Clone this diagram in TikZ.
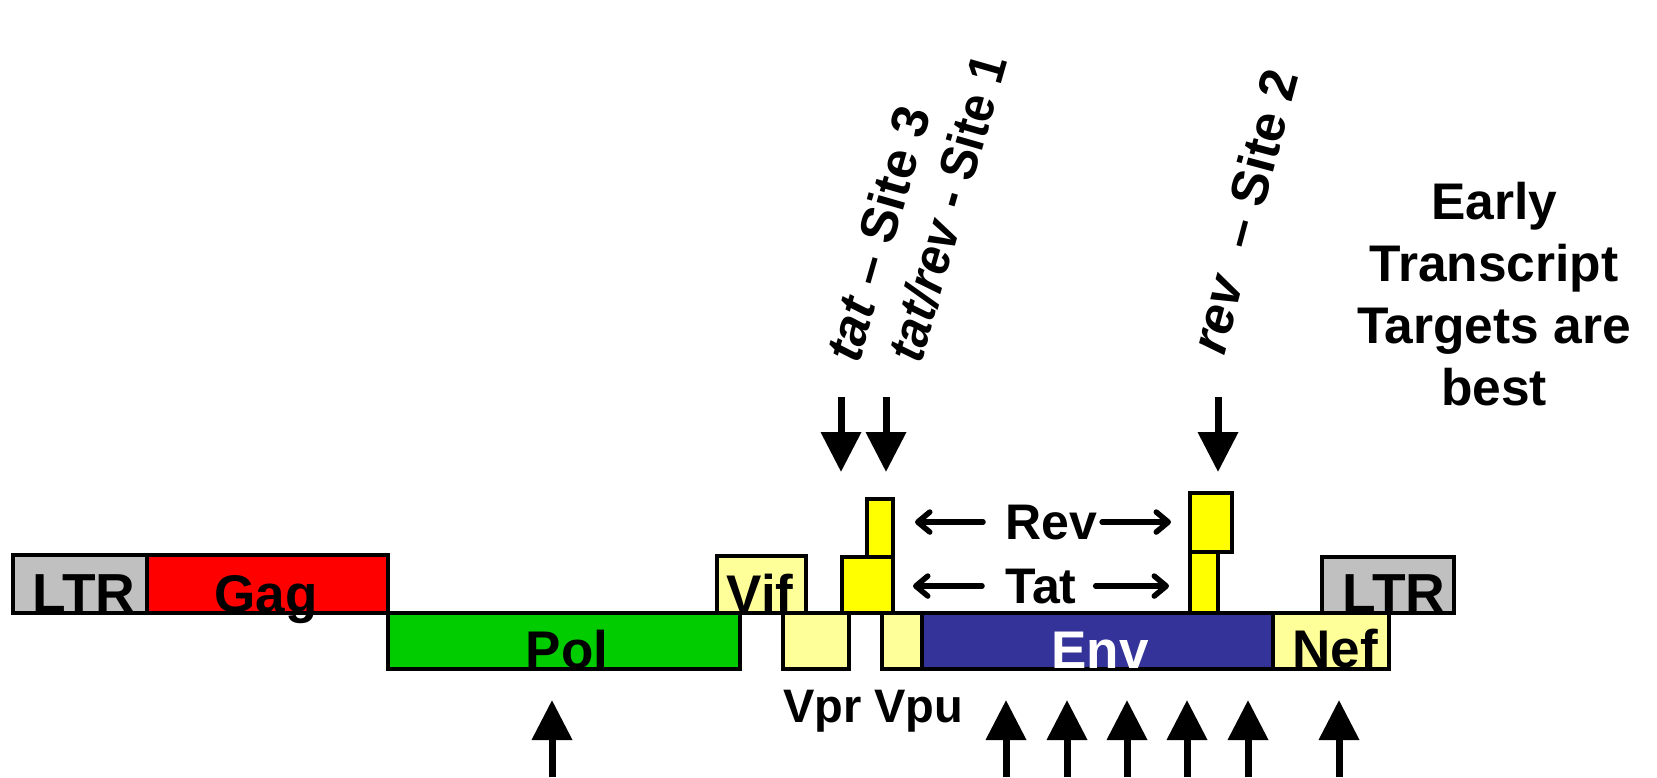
\documentclass[tikz,border=0pt]{standalone}
\usepackage{fontspec}
\setmainfont{Liberation Sans}
\usetikzlibrary{arrows.meta}

\definecolor{ltrgray}{RGB}{192,192,192}
\definecolor{gagred}{RGB}{255,0,0}
\definecolor{polgreen}{RGB}{0,204,0}
\definecolor{accyellow}{RGB}{255,255,153}
\definecolor{regyellow}{RGB}{255,255,0}
\definecolor{envblue}{RGB}{51,51,153}

% gene box: name, left, top, right, bottom, fill colour
\newcommand\genebox[6]{%
  \node[gene, fill=#6, minimum width={(#4)-(#2)}, minimum height={(#5)-(#3)}]
    (#1) at (#2,#3) {};}

\begin{document}
\begin{tikzpicture}[x=1pt, y=-1pt,
  gene/.style={draw=black, line width=3.5pt, anchor=north west,
    inner sep=0pt, outer sep=0pt},
  genelbl/.style={font=\bfseries\fontsize{53}{63}\selectfont, inner sep=0pt, anchor=base},
  reglbl/.style={font=\bfseries\fontsize{50}{60}\selectfont, inner sep=0pt, anchor=base west},
  sitelbl/.style={font=\bfseries\fontsize{52}{62}\selectfont, inner sep=0pt, anchor=base west},
  sitearrow/.style={line width=7pt, -{Triangle[length=40pt,width=39pt]}},
  barb/.style={line width=5.5pt, line cap=round,
    -{Straight Barb[length=12pt,width=20pt,line cap=round,round]}},
]
\useasboundingbox (0,0) rectangle (1657,777);
\fill[white] (0,0) rectangle (1657,777);

% lower reading frame
\genebox{pol}{388}{613}{740}{669}{polgreen}
\genebox{vpr}{783}{613}{849}{669}{accyellow}
\genebox{vpu}{882}{613}{922}{669}{accyellow}
\genebox{env}{922}{613}{1273}{669}{envblue}
\genebox{nef}{1273}{613}{1389}{669}{accyellow}

% upper reading frame
\genebox{ltrL}{13}{555}{147}{613}{ltrgray}
\genebox{gag}{147}{555}{388}{613}{gagred}
\genebox{vif}{717}{556}{806}{613}{accyellow}
\genebox{ltrR}{1322}{557}{1454}{613}{ltrgray}

% spliced tat / rev exons
\genebox{tatL}{842}{557}{893}{613}{regyellow}
\genebox{revL}{867}{499}{893}{557}{regyellow}
\genebox{tatR}{1190}{552}{1218}{613}{regyellow}
\genebox{revR}{1190}{493}{1232}{552}{regyellow}

% gene names
\node[genelbl, font=\bfseries\fontsize{55}{65}\selectfont] at (84,612) {LTR};
\node[genelbl] at (266,612) {Gag};
\node[genelbl] at (567,668) {Pol};
\node[genelbl] at (760,612) {Vif};
\node[genelbl, text=white] at (1100,668) {Env};
\node[genelbl] at (1335,667) {Nef};
\node[genelbl, font=\bfseries\fontsize{55}{65}\selectfont] at (1394,612) {LTR};
\node[font=\bfseries\fontsize{47}{56}\selectfont, inner sep=0pt, anchor=base west]
  (vprvpu) at (783,722) {Vpr Vpu};

% Rev / Tat exon connections
\node[reglbl] (revlbl) at (1005,539) {Rev};
\node[reglbl] (tatlbl) at (1005,603) {Tat};
\draw[barb, shorten <=22pt, shorten >=22pt] (revlbl.west) -- (revlbl.west -| revL.east);
\draw[barb, shorten <=5pt, shorten >=19pt] (revlbl.east) -- (revlbl.east -| revR.west);
\draw[barb, shorten <=23pt, shorten >=20pt] (tatlbl.west) -- (tatlbl.west -| tatL.east);
\draw[barb, shorten <=19pt, shorten >=21pt] (tatlbl.east) -- (tatlbl.east -| tatR.west);

% siRNA target sites in the early transcripts
\node[sitelbl, rotate=74] (site3) at (859,365) {\textit{tat} – Site 3};
\node[sitelbl, rotate=74, xscale=0.92] (site1) at (921,365) {\textit{tat/rev} - Site 1};
\node[sitelbl, rotate=75] (site2) at (1224,357) {\textit{rev}\ \ – Site 2};

\coordinate (d3a) at (841,397);  \coordinate (d3b) at (841,472);
\coordinate (d1a) at (886,397);  \coordinate (d1b) at (886,472);
\coordinate (d2a) at (1218,397); \coordinate (d2b) at (1218,472);
\draw[sitearrow] (d3a) -- (d3b);
\draw[sitearrow] (d1a) -- (d1b);
\draw[sitearrow] (d2a) -- (d2b);

% target sites in the late transcripts
\foreach \n/\x in {p/552, e1/1006, e2/1067, e3/1127, e4/1187, e5/1248, n/1339} {
  \coordinate (u\n a) at (\x,777);
  \coordinate (u\n b) at (\x,700);
  \draw[sitearrow] (u\n a) -- (u\n b);
}

\node[font=\bfseries\fontsize{51.5}{62}\selectfont, align=center, inner sep=0pt]
  (note) at (1494,294) {Early\\Transcript\\Targets are\\best};
\end{tikzpicture}
\end{document}
